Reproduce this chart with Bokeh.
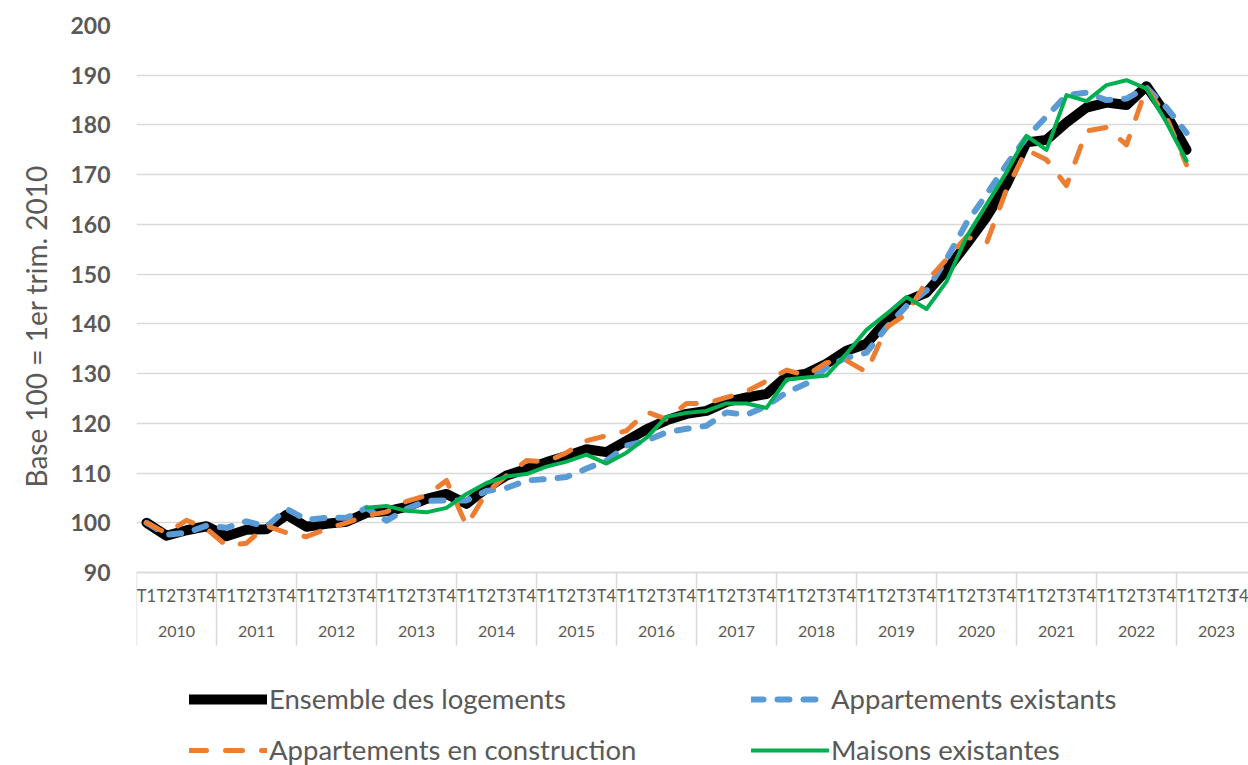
import math
from bokeh.plotting import figure
from bokeh.models import Range1d, FixedTicker, LinearAxis, Legend, LegendItem, Title
from bokeh.embed import file_html
from bokeh.resources import INLINE

nan = float("nan")

# ---------------- data ----------------
years = [str(y) for y in range(2010, 2024)]
quarters = ["T1", "T2", "T3", "T4"]
categories = [(y, q) for y in years for q in quarters]

ensemble = [100.0, 97.4, 98.5, 99.3, 97.3, 98.6, 98.7, 101.6, 99.2, 99.8,
            100.2, 102.0, 102.3, 103.2, 104.8, 105.8, 103.8, 107.0, 109.5, 110.8,
            112.2, 113.4, 114.8, 114.2, 116.5, 118.8, 120.6, 121.9, 122.5, 124.3,
            125.2, 125.9, 129.4, 130.0, 132.0, 134.6, 136.0, 140.6, 144.6, 146.3,
            150.8, 156.0, 161.5, 168.0, 176.5, 177.0, 180.5, 183.5, 184.5, 184.0,
            187.8, 182.0, 175.0]

app_existants = [100.0, 97.6, 98.0, 99.4, 99.0, 100.3, 99.2, 102.8, 100.6, 101.0,
                 101.0, 103.0, 100.4, 102.8, 104.4, 104.5, 104.5, 106.4, 107.0, 108.5,
                 108.8, 109.2, 110.9, 112.5, 115.5, 116.5, 118.2, 118.9, 119.5, 122.2,
                 121.7, 123.5, 126.2, 128.0, 131.2, 133.2, 134.2, 139.3, 143.6, 146.7,
                 153.0, 160.3, 166.0, 172.0, 177.5, 181.7, 186.0, 186.5, 185.0, 185.3,
                 187.5, 183.5, 178.4]

app_construction = [100.0, 97.9, 100.5, 98.8, 95.4, 95.9, 99.4, 98.0, 97.2, 98.8,
                    100.0, 101.4, 102.2, 104.3, 105.5, 108.5, 99.4, 106.1, 109.5, 112.5,
                    112.3, 114.1, 116.5, 117.5, 118.5, 122.3, 120.8, 124.0, 124.0, 125.2,
                    126.4, 128.5, 130.7, 129.6, 132.2, 132.6, 130.3, 139.3, 142.0, 148.5,
                    153.0, 157.5, 156.2, 167.0, 175.0, 173.0, 167.8, 178.8, 179.5, 176.0,
                    187.5, 181.5, 172.0]

maisons = [nan, nan, nan, nan, nan, nan, nan, nan, nan, nan,
           nan, 103.0, 103.4, 102.4, 102.1, 103.0, 105.8, 108.0, 109.3, 109.8,
           111.3, 112.3, 113.7, 111.9, 114.1, 117.1, 121.3, 122.1, 122.5, 124.0,
           124.0, 123.1, 128.8, 129.2, 129.6, 134.0, 138.8, 142.0, 145.4, 143.0,
           148.5, 157.5, 164.0, 170.5, 177.8, 175.0, 186.0, 184.8, 188.0, 189.0,
           187.3, 180.5, 172.8]

series_labels = ["Ensemble des logements", "Appartements existants",
                 "Appartements en construction", "Maisons existantes"]
y_ticks = list(range(90, 201, 10))
y_title = "Base 100 = 1er trim. 2010"

# ---------------- styling ----------------
FONT = "Lato"
TXT = "#595959"
GRID = "#d9d9d9"

x_idx = list(range(len(ensemble)))

# the frame also holds the category table and the legend below the 90 line
p = figure(width=1248, height=765,
           x_range=Range1d(-0.5, 55.1), y_range=Range1d(51.19, y_ticks[-1]),
           x_axis_type=None, output_backend="svg", toolbar_location=None,
           min_border_left=136, min_border_right=0, min_border_top=25,
           min_border_bottom=0)
p.outline_line_color = None
p.background_fill_color = "white"
p.border_fill_color = "white"

# y axis
yax = p.yaxis[0]
yax.ticker = FixedTicker(ticks=y_ticks)
yax.axis_line_color = None
yax.major_tick_line_color = None
yax.minor_tick_line_color = None
yax.major_tick_out = 0
yax.major_tick_in = 0
yax.major_label_standoff = 26
yax.major_label_text_font = FONT
yax.major_label_text_font_size = "23px"
yax.major_label_text_font_style = "bold"
yax.major_label_text_color = TXT

p.ygrid.ticker = FixedTicker(ticks=y_ticks)
p.ygrid.grid_line_color = GRID
p.ygrid.grid_line_width = 1.5

# y title
p.add_layout(Title(text=y_title, align="left", offset=278, vertical_align="middle",
                   text_font=FONT, text_font_size="28px", text_font_style="normal",
                   text_color=TXT, standoff=28), "left")

# x axis: quarters (at the 90 line)
n_cat = len(categories)
q_axis = LinearAxis(
    fixed_location=y_ticks[0],
    ticker=FixedTicker(ticks=list(range(n_cat)),
                       minor_ticks=[4 * k - 0.5 for k in range(len(years) + 1)]),
    major_label_overrides={i: c[1] for i, c in enumerate(categories)},
    major_tick_out=0, major_tick_in=0, minor_tick_out=73, minor_tick_in=0,
    minor_tick_line_color=GRID, minor_tick_line_width=1.5,
    axis_line_color=GRID, axis_line_width=1.5,
    major_label_standoff=-60,
    major_label_text_font=FONT, major_label_text_font_size="16.5px",
    major_label_text_color=TXT)
p.add_layout(q_axis, "below")

# x axis: years
y_axis2 = LinearAxis(
    fixed_location=y_ticks[0],
    ticker=FixedTicker(ticks=[4 * k + 1.5 for k in range(len(years))]),
    major_label_overrides={4 * k + 1.5: y for k, y in enumerate(years)},
    major_tick_out=0, major_tick_in=0,
    minor_tick_line_color=None, major_tick_line_color=None, axis_line_color=None,
    major_label_standoff=53,
    major_label_text_font=FONT, major_label_text_font_size="16px",
    major_label_text_color=TXT)
p.add_layout(y_axis2, "below")

# series
r1 = p.line(x_idx, ensemble, line_color="black", line_width=10,
            line_join="round", line_cap="round")
r2 = p.line(x_idx, app_existants, line_color="#5B9BD5", line_width=6,
            line_dash="12 14", line_join="round", line_cap="round")
r3 = p.line(x_idx, app_construction, line_color="#ED7D31", line_width=5,
            line_dash="17 19", line_join="round", line_cap="round")
r4 = p.line(x_idx, maisons, line_color="#00B050", line_width=4,
            line_join="round", line_cap="round")

legend = Legend(items=[LegendItem(label=series_labels[0], renderers=[r1]),
                       LegendItem(label=series_labels[1], renderers=[r2]),
                       LegendItem(label=series_labels[2], renderers=[r3]),
                       LegendItem(label=series_labels[3], renderers=[r4])],
                location=(53, -1), orientation="horizontal", ncols=2,
                glyph_width=78, glyph_height=20, label_height=20, label_width=464,
                label_standoff=2, spacing=18, padding=0, margin=0,
                label_text_font=FONT, label_text_font_size="27.5px",
                label_text_color=TXT, border_line_color=None,
                background_fill_alpha=0)
p.add_layout(legend, "center")

open("out.html", "w").write(file_html(p, INLINE))
